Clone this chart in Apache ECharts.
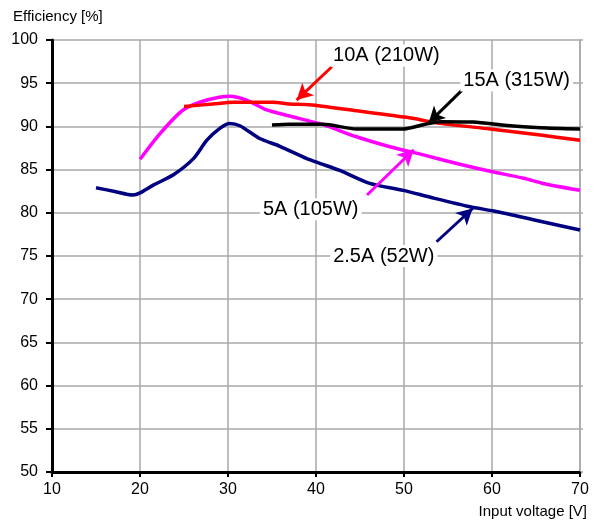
<!DOCTYPE html>
<html>
<head>
<meta charset="utf-8">
<script src="https://cdn.jsdelivr.net/npm/echarts@6/dist/echarts.min.js"></script>
<style>html,body{margin:0;padding:0;background:#fff}#c{width:596px;height:522px}</style>
</head>
<body>
<div id="c"></div>
<script>
// ---- data ----
var xTicks = [10, 20, 30, 40, 50, 60, 70];
var yTicks = [50, 55, 60, 65, 70, 75, 80, 85, 90, 95, 100];

var v25 = [15, 17, 19.2, 20, 21.5, 23.8, 26.1, 27.6, 29.1, 30.2, 31.4, 33.6, 35.9, 38.9, 40.5, 42.7, 46.1, 49.9, 53.0, 57.5, 60.2, 64.7, 70];
var e25 = [82.9, 82.5, 82.06, 82.3, 83.2, 84.4, 86.3, 88.4, 89.8, 90.35, 90.05, 88.6, 87.7, 86.3, 85.7, 84.9, 83.4, 82.6, 81.8, 80.7, 80.2, 79.2, 78.0];

var v5 = [20, 22.3, 24.9, 27.6, 30.2, 32.1, 34.4, 37.0, 40.8, 44.6, 48.4, 52.2, 56.0, 59.8, 63.6, 65.8, 70];
var e5 = [86.2, 89.2, 91.9, 93.05, 93.5, 93.05, 91.9, 91.2, 90.2, 88.8, 87.65, 86.7, 85.7, 84.8, 84.0, 83.4, 82.6];

var v10 = [25, 28.3, 30.6, 35.1, 37.0, 39.3, 44.6, 50.3, 54.1, 59.8, 65.5, 70];
var e10 = [92.3, 92.6, 92.8, 92.8, 92.6, 92.5, 91.8, 91.05, 90.35, 89.7, 89.0, 88.4];

var v15 = [35, 37.0, 40.8, 44.6, 49.9, 52.2, 54.1, 57.9, 61.7, 65.5, 70];
var e15 = [90.15, 90.25, 90.25, 89.7, 89.7, 90.2, 90.55, 90.5, 90.1, 89.85, 89.7];

var seriesNames = ['2.5A (52W)', '5A (105W)', '10A (210W)', '15A (315W)'];
// annotation arrows: [tailV, tailEff, tipV, tipEff]
var arrow25 = [53.7, 76.65, 57.8, 80.5];
var arrow5 = [45.8, 82.06, 51.1, 87.3];
var arrow10 = [41.8, 96.9, 37.8, 93.05];
var arrow15 = [56.6, 94.2, 52.8, 90.4];
// label centres: [V, Eff]
var label25 = [47.7, 75.0];
var label5 = [39.4, 80.4];
var label10 = [48.0, 98.2];
var label15 = [62.8, 95.3];

function zip(a, b) { return a.map(function (x, i) { return [x, b[i]]; }); }

function mkSeries(name, vs, es, color, arrow, lab) {
  return {
    name: name, type: 'line', data: zip(vs, es), showSymbol: false, symbol: 'none',
    smooth: 0.25,
    lineStyle: { color: color, width: 3.5 }, itemStyle: { color: color },
    markLine: {
      silent: true, symbol: ['none', 'arrow'], symbolSize: [13, 16],
      lineStyle: { color: color, width: 3, type: 'solid' },
      label: { show: false },
      data: [[{ coord: [arrow[0], arrow[1]] }, { coord: [arrow[2], arrow[3]] }]]
    },
    markPoint: {
      silent: true, symbol: 'rect', symbolSize: 0,
      label: {
        show: true, position: 'inside', formatter: name, color: '#000',
        fontSize: 20, fontFamily: 'Liberation Sans, Arial, sans-serif',
        backgroundColor: '#fff', padding: [1, 3]
      },
      data: [{ coord: lab, value: 0 }]
    }
  };
}

var chart = echarts.init(document.getElementById('c'), null, { renderer: 'canvas' });
var font = 'Liberation Sans, Arial, sans-serif';
chart.setOption({
  animation: false,
  backgroundColor: '#fff',
  grid: { left: 52, right: 16, top: 40, bottom: 50 },
  xAxis: {
    type: 'value', min: 10, max: 70, interval: 10,
    axisLine: { show: true, onZero: false, lineStyle: { color: '#000', width: 3 } },
    axisTick: { show: true, length: 5, lineStyle: { color: '#000', width: 2 } },
    axisLabel: { color: '#000', fontSize: 16, fontFamily: font, margin: 10 },
    splitLine: { show: true, lineStyle: { color: '#a8a8a8', width: 1.5 } }
  },
  yAxis: [{
    type: 'value', min: 50, max: 100, interval: 5,
    axisLine: { show: true, onZero: false, lineStyle: { color: '#000', width: 3 } },
    axisTick: { show: true, length: 6, lineStyle: { color: '#000', width: 2 } },
    axisLabel: { color: '#000', fontSize: 16, fontFamily: font, margin: 14 },
    splitLine: { show: true, lineStyle: { color: '#a8a8a8', width: 1.5 } }
  }, {
    type: 'value', min: 50, max: 100, interval: 5, position: 'right',
    axisLine: { show: true, onZero: false, lineStyle: { color: '#a8a8a8', width: 1.5 } },
    axisTick: { show: true, length: 3, lineStyle: { color: '#a8a8a8', width: 1.5 } },
    axisLabel: { show: false },
    splitLine: { show: false }
  }],
  graphic: [
    { type: 'text', left: 13, top: 9, style: { text: 'Efficiency [%]', fontSize: 15, fontFamily: font, fill: '#000' } },
    { type: 'text', right: 9, top: 504, style: { text: 'Input voltage [V]', fontSize: 15, fontFamily: font, fill: '#000' } }
  ],
  series: [
    mkSeries(seriesNames[0], v25, e25, '#000080', arrow25, label25),
    mkSeries(seriesNames[1], v5, e5, '#FF00FF', arrow5, label5),
    mkSeries(seriesNames[2], v10, e10, '#FF0000', arrow10, label10),
    mkSeries(seriesNames[3], v15, e15, '#000000', arrow15, label15)
  ]
});
</script>
</body>
</html>
